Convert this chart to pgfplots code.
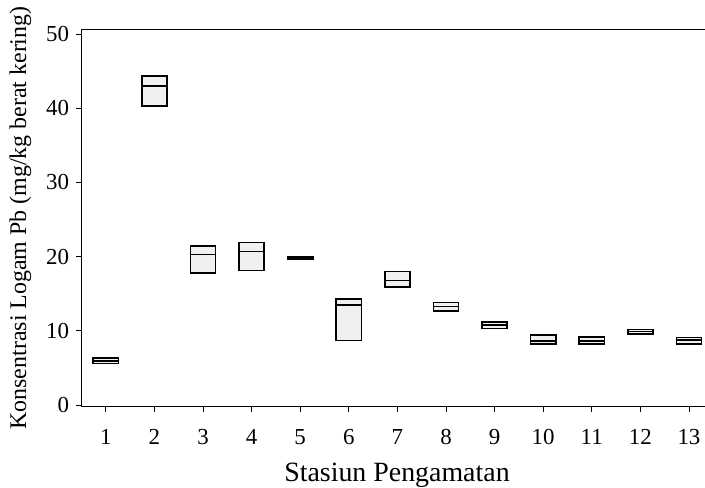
\documentclass[border=0pt]{standalone}
\usepackage{fontspec}
\setmainfont{Liberation Serif}
\usepackage{pgfplots}
\pgfplotsset{compat=1.18}
\usepgfplotslibrary{statistics}
\pgfplotstableread{
pos lq med uq
1 5.6 5.9 6.3
2 40.3 43.0 44.3
3 17.8 20.3 21.4
4 18.1 20.7 21.9
5 19.6 19.8 20.0
6 8.7 13.5 14.3
7 15.9 16.8 18.0
8 12.7 13.25 13.8
9 10.3 10.8 11.2
10 8.2 8.6 9.4
11 8.2 8.6 9.2
12 9.6 9.9 10.2
13 8.2 8.8 9.1
}\stations
\newcommand{\bx}[1]{%
  \pgfplotstablegetelem{#1}{lq}\of\stations\let\lq\pgfplotsretval
  \pgfplotstablegetelem{#1}{med}\of\stations\let\md\pgfplotsretval
  \pgfplotstablegetelem{#1}{uq}\of\stations\let\uq\pgfplotsretval
  \pgfplotstablegetelem{#1}{pos}\of\stations\let\ps\pgfplotsretval
  \edef\temp{\noexpand\addplot[boxstyle, boxplot prepared={median=\md, lower quartile=\lq, upper quartile=\uq, lower whisker=\lq, upper whisker=\uq, draw position=\ps}] coordinates {};}%
  \temp
}
\begin{document}
\begin{tikzpicture}
\useasboundingbox (-81.5bp,-81.5bp) rectangle (623.5bp,406.5bp);
\begin{axis}[
  at={(0,0)}, anchor=south west,
  scale only axis, width=623.5bp, height=377bp,
  xmin=0.5, xmax=13.33, ymin=-0.2, ymax=50.6,
  axis x line=box, axis y line=left,
  every outer x axis line/.style={-},
  every outer y axis line/.style={-},
  every inner x axis line/.style={-},
  every inner y axis line/.style={-},
  axis line style={-, line width=1bp, black},
  tick pos=left, tick align=outside, major tick length=5bp,
  tick style={line width=0.8bp, black},
  xtick={1,...,13}, ytick={0,10,...,50},
  /pgf/number format/assume math mode=true,
  ticklabel style={font=\fontsize{23}{25}\selectfont},
  xticklabel style={yshift=-14bp},
  yticklabel style={xshift=-4bp},
  every axis y label/.style={at={(axis description cs:0,0.5)}, anchor=center, xshift=-61bp, rotate=90, font=\fontsize{24}{26}\selectfont},
  every axis x label/.style={at={(axis description cs:0.506,0)}, anchor=base, yshift=-74.5bp, font=\fontsize{28}{30}\selectfont},
  xlabel={Stasiun Pengamatan},
  ylabel={Konsentrasi Logam Pb (mg/kg berat kering)},
  boxplot/draw direction=y,
  boxstyle/.style={draw=black, fill=gray!12, line width=1.6bp, boxplot/box extend=0.52, boxplot/whisker extend=0},
]
\bx{0}\bx{1}\bx{2}\bx{3}\bx{4}\bx{5}\bx{6}\bx{7}\bx{8}\bx{9}\bx{10}\bx{11}\bx{12}
\end{axis}
\end{tikzpicture}
\end{document}
